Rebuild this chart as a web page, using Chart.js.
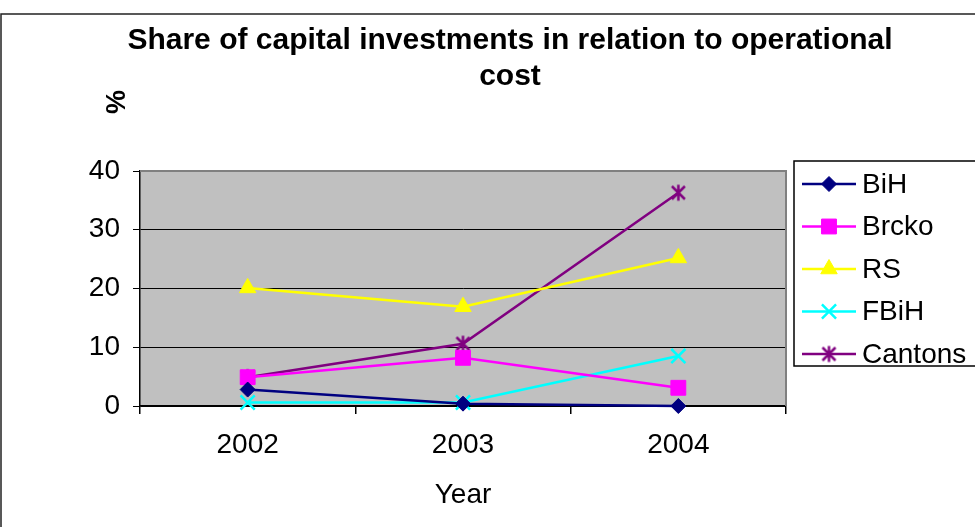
<!DOCTYPE html>
<html>
<head>
<meta charset="utf-8">
<script src="https://cdn.jsdelivr.net/npm/chart.js@4/dist/chart.umd.min.js"></script>
<style>
  html, body { margin:0; padding:0; background:#fff; }
  canvas { display:block; }
</style>
</head>
<body>
<canvas id="c" width="975" height="527"></canvas>
<script>
// --- data ---
const years = ['2002', '2003', '2004'];
const bihValues = [2.8, 0.4, 0];
const brckoValues = [4.9, 8.2, 3.1];
const rsValues = [20.1, 16.9, 25.2];
const fbihValues = [0.6, 0.6, 8.5];
const cantonsValues = [4.9, 10.6, 36.3];
const yTicks = [0, 10, 20, 30, 40];

const titleLines = ['Share of capital investments in relation to operational', 'cost'];
const FONT = '"Liberation Sans", Arial, sans-serif';

// Excel style asterisk marker: an x with a vertical bar through it
function asterisk(color){
  const c = document.createElement('canvas');
  c.width = c.height = 19;
  const g = c.getContext('2d');
  g.strokeStyle = color; g.lineWidth = 2.5; g.lineCap = 'butt';
  g.beginPath();
  g.moveTo(3,3); g.lineTo(16,16);
  g.moveTo(16,3); g.lineTo(3,16);
  g.moveTo(9.5,1.5); g.lineTo(9.5,17.5);
  g.stroke();
  return c;
}

function series(label, data, color, style, radius, bw){
  return {
    label, data,
    borderColor: color, backgroundColor: color,
    borderWidth: 2.5, tension: 0,
    pointStyle: style, pointRadius: radius, pointHoverRadius: radius,
    pointBackgroundColor: color, pointBorderColor: color, pointBorderWidth: bw
  };
}

const datasets = [
  series('BiH', bihValues, '#000080', 'rectRot', 7.5, 1),
  series('Brcko', brckoValues, '#FF00FF', 'rect', 10.5, 1),
  series('RS', rsValues, '#FFFF00', 'triangle', 9.5, 1),
  series('FBiH', fbihValues, '#00FFFF', 'crossRot', 10, 2.5),
  series('Cantons', cantonsValues, '#800080', asterisk('#800080'), 9, 2.5)
];

// gray plot background, outer frame, title, "%" label and legend
const decor = {
  id: 'decor',
  beforeDraw(chart){
    const {ctx, chartArea:a} = chart;
    ctx.save();
    ctx.fillStyle = '#C0C0C0';
    ctx.fillRect(a.left, a.top, a.right - a.left, a.bottom - a.top);
    // outer chart border
    ctx.strokeStyle = '#222'; ctx.lineWidth = 1.5;
    ctx.beginPath();
    ctx.moveTo(1, chart.height); ctx.lineTo(1, 14); ctx.lineTo(chart.width, 14);
    ctx.stroke();
    ctx.restore();
  },
  beforeDatasetsDraw(chart){
    const {ctx, chartArea:a} = chart;
    ctx.save();
    ctx.strokeStyle = '#808080'; ctx.lineWidth = 2;
    ctx.beginPath();
    ctx.moveTo(a.left, a.top); ctx.lineTo(a.right, a.top); ctx.lineTo(a.right, a.bottom);
    ctx.stroke();
    ctx.restore();
  },
  afterDraw(chart){
    const {ctx} = chart;
    ctx.save();
    ctx.fillStyle = '#000';
    ctx.textAlign = 'center'; ctx.textBaseline = 'middle';
    ctx.font = 'bold 30px ' + FONT;
    titleLines.forEach((t, i) => ctx.fillText(t, 510, 41 + i * 36));

    ctx.save();
    ctx.translate(118, 102);
    ctx.rotate(-Math.PI / 2);
    ctx.font = 'bold 27px ' + FONT;
    ctx.fillText('%', 0, 0);
    ctx.restore();

    // legend box
    ctx.fillStyle = '#fff';
    ctx.fillRect(794, 161, 190, 205);
    ctx.strokeStyle = '#000'; ctx.lineWidth = 1.5;
    ctx.strokeRect(794, 161, 190, 205);
    chart.data.datasets.forEach((ds, i) => {
      const y = 184 + i * 42.5;
      ctx.strokeStyle = ds.borderColor; ctx.lineWidth = 2.5;
      ctx.beginPath(); ctx.moveTo(802, y); ctx.lineTo(856, y); ctx.stroke();
      ctx.fillStyle = ds.pointBackgroundColor; ctx.strokeStyle = ds.pointBorderColor;
      ctx.lineWidth = ds.pointBorderWidth;
      Chart.helpers.drawPoint(ctx, {pointStyle: ds.pointStyle, rotation: 0, radius: ds.pointRadius, borderWidth: ds.pointBorderWidth}, 829, y);
      ctx.fillStyle = '#000';
      ctx.textAlign = 'left'; ctx.textBaseline = 'middle';
      ctx.font = '28px ' + FONT;
      ctx.fillText(ds.label, 862, y + 1);
    });
    ctx.restore();
  }
};

new Chart(document.getElementById('c'), {
  type: 'line',
  data: { labels: years, datasets },
  plugins: [decor],
  options: {
    responsive: false,
    animation: false,
    events: [],
    clip: false,
    layout: { padding: { left: 0, top: 171, right: 189, bottom: 0 } },
    plugins: { legend: { display: false }, title: { display: false }, tooltip: { enabled: false } },
    scales: {
      x: {
        type: 'category',
        offset: true,
        afterFit(s){ s.height = 121; },
        grid: { offset: true, drawOnChartArea: false, drawTicks: true, tickLength: 8, color: '#000', lineWidth: 1.5 },
        border: { color: '#000', width: 1.5 },
        ticks: { color: '#000', padding: 14, font: { family: FONT, size: 28 }, maxRotation: 0 },
        title: { display: true, text: 'Year', color: '#000', font: { family: FONT, size: 28 }, padding: { top: 0, bottom: 15 } }
      },
      y: {
        min: 0, max: 40,
        afterFit(s){ s.width = 140; },
        afterBuildTicks(s){ s.ticks = yTicks.map(v => ({ value: v })); },
        grid: { color: '#000', lineWidth: 1, tickLength: 7 },
        border: { color: '#000', width: 1.5 },
        ticks: { color: '#000', padding: 13, font: { family: FONT, size: 28 } }
      }
    }
  }
});
</script>
</body>
</html>
